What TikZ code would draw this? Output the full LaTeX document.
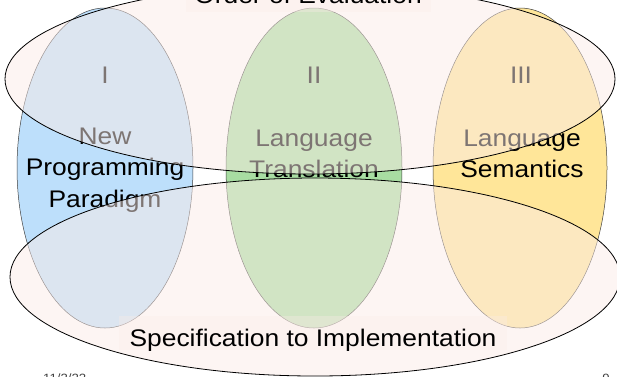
\documentclass[tikz,border=0pt]{standalone}
\usepackage{fontspec}
\setmainfont[FakeStretch=1.1]{Liberation Sans}

\definecolor{parblue}{HTML}{BDDFFB}
\definecolor{transgreen}{HTML}{A8DDA2}
\definecolor{semyellow}{HTML}{FFE699}
\definecolor{sweeppink}{HTML}{FBEBE7}
\definecolor{rimgray}{HTML}{404040}

\begin{document}
\begin{tikzpicture}[x=1pt,y=-1pt,
    lens/.style={draw=rimgray, line width=0.5pt},
    sweep/.style={fill=sweeppink, fill opacity=0.5, draw=black, line width=0.8pt},
    numtext/.style={font=\fontsize{24}{28}\selectfont, inner sep=0pt},
    bigtext/.style={font=\fontsize{24}{31.5}\selectfont, align=center, inner sep=0pt},
    tag/.style={font=\fontsize{24}{28}\selectfont, fill=sweeppink, fill opacity=0.35,
        text opacity=1, inner sep=0pt, anchor=base},
    foot/.style={font=\fontsize{12}{14}\selectfont, text=black!75, inner sep=0pt}]
    \useasboundingbox (0,0) rectangle (617,376);

    % the three lenses
    \draw[lens, fill=parblue] (105,168) ellipse [x radius=88pt, y radius=160pt];
    \draw[lens, fill=transgreen] (314,168) ellipse [x radius=88pt, y radius=160pt];
    \draw[lens, fill=semyellow] (520,168) ellipse [x radius=87pt, y radius=160pt];

    \node[numtext] (one) at (105,75) {I};
    \node[numtext] (two) at (314,75) {II};
    \node[numtext] (three) at (521,75) {III};

    \node[bigtext] (paradigm) at (105,170) {New\\Programming\\Paradigm};
    \node[bigtext] (translation) at (314,154) {Language\\Translation};
    \node[bigtext] (semantics) at (522,154) {Language\\Semantics};

    % the two sweeps across them
    \draw[sweep] (310,79) ellipse [x radius=305pt, y radius=95pt];
    \draw[sweep] (315,277) ellipse [x radius=305pt, y radius=99pt];

    \node[tag, minimum width=245pt, text height=25pt, text depth=9pt] (order) at (308,3) {Order of Evaluation};
    \node[tag, minimum width=388pt, text height=30pt, text depth=4pt] (spec) at (313,346) {Specification to Implementation};

    \node[foot, anchor=north west] (date) at (43,373.5) {11/3/22};
    \node[foot, anchor=north] (page) at (606,373.5) {9};
\end{tikzpicture}
\end{document}
